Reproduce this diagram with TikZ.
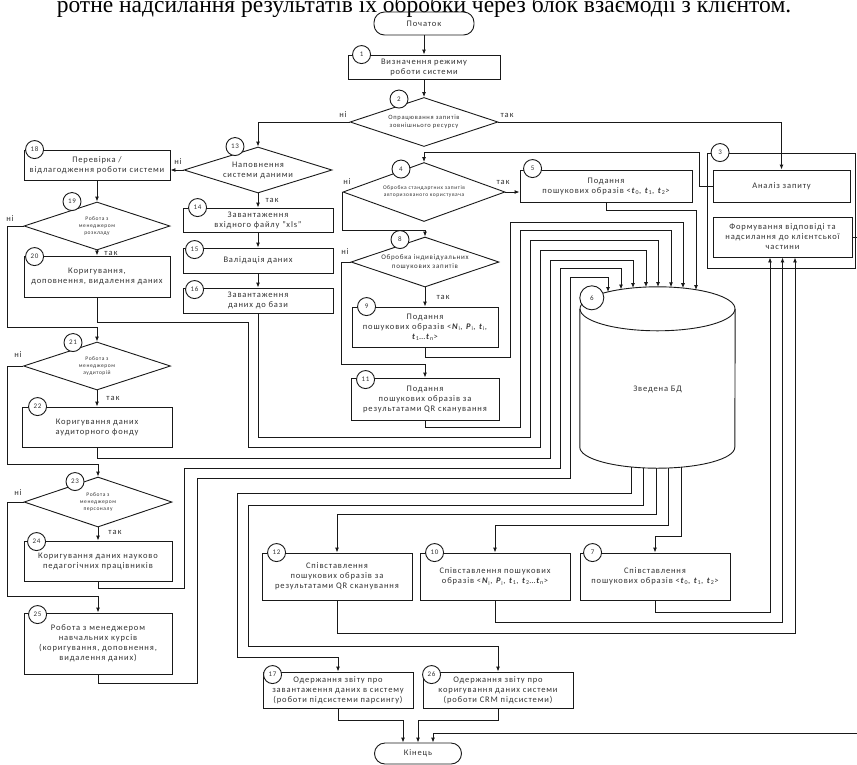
\documentclass[tikz,border=0pt]{standalone}
\usepackage{fontspec}
\setmainfont{Carlito}[LetterSpace=10]
\newfontfamily\headfont{Liberation Serif}
\usetikzlibrary{arrows.meta, shapes.geometric, calc}

\newcommand{\boxfont}{\fontsize{8.5}{10}\selectfont}
\newcommand{\midfont}{\fontsize{6.5}{8.5}\selectfont}
\newcommand{\tinyfont}{\fontsize{5.5}{7}\selectfont}
\newcommand{\pv}[2]{\textbf{\textit{#1}}\textsubscript{#2}}

\begin{document}
\begin{tikzpicture}[
    x=1pt, y=-1pt,
    block/.style={draw=black!90, line width=0.9pt, fill=white, inner sep=1pt,
        align=center, font=\boxfont, text=black!80},
    decision/.style={draw=black!90, line width=0.9pt, diamond, aspect=3,
        inner sep=0pt, align=center, text=black!80},
    term/.style={draw=black!90, line width=0.9pt, rounded corners=10.5pt,
        font=\boxfont, text=black!80},
    num/.style={draw=black!90, line width=0.9pt, circle, fill=white,
        minimum size=18pt, inner sep=0pt, font=\fontsize{7}{8}\selectfont, text=black!80},
    yesno/.style={font=\boxfont, text=black!80, inner sep=1pt},
    arrow/.style={-{Latex[length=5pt,width=4pt]}, line width=0.9pt, black!90},
    link/.style={line width=0.9pt, black!90}
]
\clip (0,0) rectangle (857,764);

% heading line cut by the page edge
\node[anchor=base, inner sep=0pt, font=\headfont\fontsize{23.5}{26}\selectfont] (head) at (424,12.5)
    {ротне надсилання результатів їх обробки через блок взаємодії з клієнтом.};

% START AND MODE
\node[term, minimum width=100pt, minimum height=23pt] (start) at (424,23.5) {Початок};
\node[block, minimum width=152pt, minimum height=24pt] (b1) at (424,67) {Визначення режиму\\роботи системи};
\node[decision, minimum width=148pt, minimum height=49pt, font=\midfont] (d2) at (424,122) {Опрацювання запитів\\зовнішнього ресурсу};

% DATA FILLING BRANCH
\node[decision, minimum width=148pt, minimum height=46pt, font=\boxfont] (d13) at (258,170) {Наповнення\\системи даними};
\node[block, minimum width=150pt, minimum height=24pt] (b14) at (258,220) {Завантаження\\вхідного файлу "xls"};
\node[block, minimum width=150pt, minimum height=25pt] (b15) at (258,260.5) {Валідація даних};
\node[block, minimum width=150pt, minimum height=25pt] (b16) at (258,300.5) {Завантаження\\даних до бази};

% MANAGERS BRANCH
\node[block, minimum width=146pt, minimum height=30pt] (b18) at (97,165) {Перевірка /\\відлагодження роботи системи};
\node[decision, minimum width=146pt, minimum height=48pt, font=\tinyfont] (d19) at (97,226) {Робота з\\менеджером\\розкладу};
\node[block, minimum width=146pt, minimum height=41pt] (b20) at (97,276.5) {Коригування,\\доповнення, видалення даних};
\node[decision, minimum width=147pt, minimum height=48pt, font=\tinyfont] (d21) at (97,366) {Робота з\\менеджером\\аудиторій};
\node[block, minimum width=150pt, minimum height=40pt] (b22) at (97,427) {Коригування даних\\аудиторного фонду};
\node[decision, minimum width=148pt, minimum height=50pt, font=\tinyfont] (d23) at (98,502) {Робота з\\менеджером\\персоналу};
\node[block, minimum width=148pt, minimum height=40pt] (b24) at (98,561) {Коригування даних науково\\педагогічних працівників};
\node[block, minimum width=148pt, minimum height=61pt] (b25) at (98,643.5) {Робота з менеджером\\навчальних курсів\\(коригування, доповнення,\\видалення даних)};

% SEARCH REQUESTS BRANCH
\node[decision, minimum width=162pt, minimum height=59pt, font=\tinyfont] (d4) at (424,192) {Обробка стандартних запитів\\авторизованого користувача};
\node[block, minimum width=172pt, minimum height=32pt] (b5) at (606,186) {Подання\\пошукових образів <\pv{t}{0}, \pv{t}{1}, \pv{t}{2}>};
\node[decision, minimum width=148pt, minimum height=50pt, font=\fontsize{7}{9}\selectfont] (d8) at (425,262) {Обробка індивідуальних\\пошукових запитів};
\node[block, minimum width=146pt, minimum height=40pt] (b9) at (425,327) {Подання\\пошукових образів <\pv{N}{i}, \pv{P}{i}, \pv{t}{i},\\\pv{t}{1}…\pv{t}{n}>};
\node[block, minimum width=148pt, minimum height=42pt] (b11) at (425,399) {Подання\\пошукових образів за\\результатами QR сканування};

% CLIENT INTERACTION BLOCK
\node[draw=black!90, line width=0.9pt, minimum width=148pt, minimum height=115pt] (b3) at (781.5,210.5) {};
\node[block, minimum width=137pt, minimum height=32pt] (an) at (781.5,186) {Аналіз запиту};
\node[block, minimum width=139pt, minimum height=40pt] (fo) at (782.5,237) {Формування відповіді та\\надсилання до клієнтської\\частини};

% DATABASE
\node[minimum width=155pt, minimum height=181pt, inner sep=0pt] (db) at (657.5,377.5) {};
\draw[link] ($(db.north west)+(0,22)$) -- ($(db.south west)+(0,-21)$)
    arc[start angle=180, end angle=360, x radius=77.5pt, y radius=21pt] -- ($(db.north east)+(0,22)$);
\draw[link] ($(db.north)+(0,22)$) ellipse[x radius=77.5pt, y radius=22pt];
\node[font=\boxfont, text=black!80] (dbtext) at ($(db.center)+(0,12)$) {Зведена БД};

% MATCHING AND REPORTS
\node[block, minimum width=150pt, minimum height=47pt] (b12) at (337,576.5) {Співставлення\\пошукових образів за\\результатами QR сканування};
\node[block, minimum width=150pt, minimum height=47pt] (b10) at (495,576.5) {Співставлення пошукових\\образів <\pv{N}{i}, \pv{P}{i}, \pv{t}{1}, \pv{t}{2}…\pv{t}{n}>};
\node[block, minimum width=150pt, minimum height=47pt] (b7) at (655,576.5) {Співставлення\\пошукових образів <\pv{t}{0}, \pv{t}{1}, \pv{t}{2}>};
\node[block, minimum width=150pt, minimum height=36pt] (b17) at (338,690) {Одержання звіту про\\завантаження даних в систему\\(роботи підсистеми парсингу)};
\node[block, minimum width=150pt, minimum height=36pt] (b26) at (498,690) {Одержання звіту про\\коригування даних системи\\(роботи CRM підсистеми)};
\node[term, minimum width=87pt, minimum height=21pt] (end) at (418,753.5) {Кінець};

% NUMBERS
\node[num] (n1) at ($(b1.north west)+(14,0)$) {1};
\node[num] (n2) at ($(d2.north)+(-25,2)$) {2};
\node[num] (n3) at ($(b3.north west)+(13,0)$) {3};
\node[num] (n4) at ($(d4.north)+(-23,7)$) {4};
\node[num] (n5) at ($(b5.north west)+(13,-1)$) {5};
\node[num, minimum size=24pt] (n6) at ($(db.north west)+(12,11)$) {6};
\node[num] (n7) at ($(b7.north west)+(13,0)$) {7};
\node[num] (n8) at ($(d8.north)+(-25,3)$) {8};
\node[num] (n9) at ($(b9.north west)+(15,0)$) {9};
\node[num] (n10) at ($(b10.north west)+(15,0)$) {10};
\node[num] (n11) at ($(b11.north west)+(15,2)$) {11};
\node[num] (n12) at ($(b12.north west)+(15,0)$) {12};
\node[num] (n13) at ($(d13.north)+(-23,0)$) {13};
\node[num] (n14) at ($(b14.north west)+(15,0)$) {14};
\node[num] (n15) at ($(b15.north west)+(12,2)$) {15};
\node[num] (n16) at ($(b16.north west)+(12,2)$) {16};
\node[num] (n17) at ($(b17.north west)+(10,3)$) {17};
\node[num] (n18) at ($(b18.north west)+(11,0)$) {18};
\node[num] (n19) at ($(d19.north)+(-25,0)$) {19};
\node[num] (n20) at ($(b20.north west)+(11,1)$) {20};
\node[num] (n21) at ($(d21.north)+(-24,1)$) {21};
\node[num] (n22) at ($(b22.north west)+(16,0)$) {22};
\node[num] (n23) at ($(d23.north)+(-23,5)$) {23};
\node[num] (n24) at ($(b24.north west)+(13,1)$) {24};
\node[num] (n25) at ($(b25.north west)+(14,2)$) {25};
\node[num] (n26) at ($(b26.north west)+(9,3)$) {26};

% YES / NO LABELS
\node[yesno] (y2n) at (343,115) {ні};
\node[yesno] (y2y) at (507,115) {так};
\node[yesno] (y13n) at (178,162) {ні};
\node[yesno] (y13y) at (272,200) {так};
\node[yesno] (y19n) at (10,219) {ні};
\node[yesno] (y19y) at (111,253) {так};
\node[yesno] (y21n) at (18,355) {ні};
\node[yesno] (y21y) at (113,398) {так};
\node[yesno] (y23n) at (18,493) {ні};
\node[yesno] (y23y) at (115,532) {так};
\node[yesno] (y4n) at (347,182) {ні};
\node[yesno] (y4y) at (503,182) {так};
\node[yesno] (y8n) at (345,252) {ні};
\node[yesno] (y8y) at (443,297) {так};

% INLETS OF THE DATABASE
\coordinate (in1) at (608,292);
\coordinate (in2) at (621,289.5);
\coordinate (in3) at (633,288);
\coordinate (in4) at (646,287.2);
\coordinate (in5) at (658,287);
\coordinate (in6) at (671,287.3);
\coordinate (in7) at (683,288.2);
\coordinate (in8) at (696,290);
% OUTLETS OF THE DATABASE
\coordinate (o1) at (631,466.7);
\coordinate (o2) at (643,467.6);
\coordinate (o3) at (656,468);
\coordinate (o4) at (668,467.8);
\coordinate (o5) at (681,467);
\coordinate (offr) at (861,733);

% MAIN FLOW
\draw[arrow] (start) -- (b1);
\draw[arrow] (b1) -- (d2);
\draw[arrow] (d2.west) -| (d13.north);
\draw[arrow] (d2.east) -| (an.north);
\draw[arrow] (d13.west) -- (d13.west -| b18.east);
\draw[arrow] (d13) -- (b14);
\draw[arrow] (b14) -- (b15);
\draw[arrow] (b15) -- (b16);
\draw[arrow] (b18) -- (d19);
\draw[arrow] (d19) -- (b20);
\draw[arrow] (d19.west) -- ++(-16,0) |- ($(d21.north)+(0,-14)$) -- (d21.north);
\draw[arrow] (d21) -- (b22);
\draw[arrow] (d21.west) -- ++(-16,0) |- ($(d23.north)+(0,-12)$) -- (d23.north);
\draw[arrow] (d23) -- (b24);
\draw[arrow] (d23.west) -- ++(-16,0) |- ($(b25.north)+(0,-16)$) -- (b25.north);

\draw[arrow] (an.west) -- ++(-13,0) |- ($(d4.north)+(0,-10)$) -- (d4.north);
\draw[arrow] (d4.east) -- (d4.east -| b5.west);
\draw[arrow] (d4.west) -- ++(0,38) -| (d8.north);
\draw[arrow] (d8) -- (b9);
\draw[arrow] (d8.west) -- ++(-9,0) |- ($(b11.north)+(0,-13)$) -- (b11.north);

% INTO THE DATABASE
\draw[arrow] (b25.south) -- ++(0,9) -| (197,478) -| (570,277) -| (in1);
\draw[arrow] (b24.south) -- ++(0,7) -| (184,468) -| (560,268) -| (in2);
\draw[arrow] (b22.south) -- ++(0,11) -| (550,260) -| (in3);
\draw[arrow] (b20.south) -- ++(0,25) -| (248,447) -| (540,250) -| (in4);
\draw[arrow] (b16.south) |- (530,437) -- (530,240) -| (in5);
\draw[arrow] (b11.south) -- ++(0,7) -| (520,230) -| (in6);
\draw[arrow] (b9.south) -- ++(0,10) -| (510,222) -| (in7);
\draw[arrow] (b5.south) -- ++(0,8) -| (in8);

% OUT OF THE DATABASE
\draw[arrow] (o1) |- (237,493) |- ($(b17.north)+(0,-14)$) -- (b17.north);
\draw[arrow] (o2) |- (248,505) |- ($(b26.north)+(0,-25)$) -- (b26.north);
\draw[arrow] (o3) |- ($(b12.north)+(0,-38)$) -- (b12.north);
\draw[arrow] (o4) |- ($(b10.north)+(0,-27)$) -- (b10.north);
\draw[arrow] (o5) |- ($(b7.north)+(0,-16)$) -- (b7.north);

% BACK TO THE CLIENT
\draw[arrow] (b7.south) -- ++(0,12) -| ($(fo.south)+(-12.5,0)$);
\draw[arrow] (b10.south) -- ++(0,22) -| (fo.south);
\draw[arrow] (b12.south) -- ++(0,33) -| ($(fo.south)+(12.5,0)$);

% END
\draw[arrow] (fo.east) -- (fo.east -| offr) -- (offr) -| ($(end.north)+(15,0)$);
\draw[arrow] (b17.south) -- ++(0,12) -| ($(end.north)+(-15,0)$);
\draw[arrow] (b26.south) -- ++(0,12) -| (end.north);

\end{tikzpicture}
\end{document}
